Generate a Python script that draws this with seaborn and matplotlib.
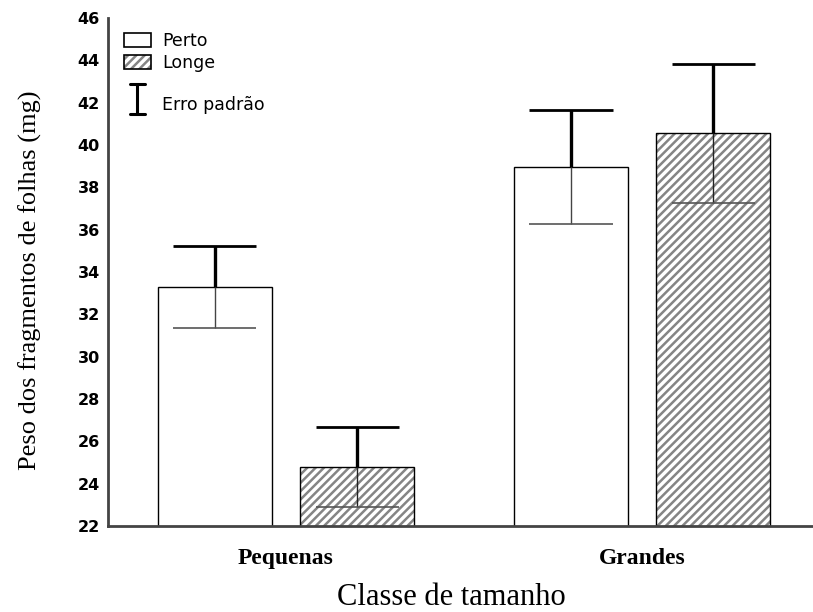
import matplotlib
matplotlib.use("Agg")
import matplotlib.pyplot as plt
import seaborn as sns
import pandas as pd
import numpy as np
from matplotlib.patches import Patch, Rectangle
from matplotlib.lines import Line2D
from matplotlib.legend_handler import HandlerBase, HandlerTuple

# ---- data ----
categories = ["Pequenas", "Grandes"]
groups = ["Perto", "Longe"]
perto_mean = [33.3, 38.95]
longe_mean = [24.8, 40.55]
perto_se = [1.95, 2.7]
longe_se = [1.9, 3.3]
yticks = [22, 24, 26, 28, 30, 32, 34, 36, 38, 40, 42, 44, 46]

df = pd.DataFrame({
    "classe": categories * 2,
    "grupo": [groups[0]] * 2 + [groups[1]] * 2,
    "peso": perto_mean + longe_mean,
    "se": perto_se + longe_se,
})

sns.set_style("white")
plt.rcParams["hatch.linewidth"] = 1.8
plt.rcParams["text.color"] = "black"
HATCH = "////"
HCOL = "#858585"

fig = plt.figure(figsize=(8.13, 6.12), dpi=100)
ax = fig.add_axes([0.1328, 0.1405, 0.8672, 0.8301])

sns.barplot(data=df, x="classe", y="peso", hue="grupo", order=categories,
            hue_order=groups, palette=["white", "white"], errorbar=None,
            width=0.8, gap=0.2, edgecolor="black", linewidth=1.0,
            legend=False, ax=ax)

bars = list(ax.patches)
cap_half = 0.117
for i, p in enumerate(bars):
    g = i // 2
    c = i % 2
    if g == 1:
        p.set_hatch(HATCH)
        p.set_edgecolor(HCOL)
        p.set_linewidth(0)
        ax.add_patch(Rectangle(p.get_xy(), p.get_width(), p.get_height(),
                               fill=False, edgecolor="black", lw=1.0, zorder=p.get_zorder() + 0.1))
    mean = [perto_mean, longe_mean][g][c]
    se = [perto_se, longe_se][g][c]
    xc = p.get_x() + p.get_width() / 2
    ax.vlines(xc, mean, mean + se, color="black", lw=2.4, zorder=5)
    ax.hlines(mean + se, xc - cap_half, xc + cap_half, color="black", lw=2.0, zorder=5)
    ax.vlines(xc, mean - se, mean, color="#444444" if g == 0 else "#222222", lw=1.0, zorder=5)
    ax.hlines(mean - se, xc - cap_half, xc + cap_half, color="#555555", lw=1.2, zorder=5)

ax.set_ylim(22, 46)
ax.set_xlim(-0.5, 1.48)
ax.set_yticks(yticks)
ax.set_yticklabels([str(t) for t in yticks], fontsize=11.5, fontweight="bold",
                   family="DejaVu Sans", color="black")
ax.set_xticks([0, 1])
ax.set_xticklabels(categories, fontsize=17, fontweight="bold", family="Liberation Serif",
                   color="black")
ax.tick_params(axis="y", direction="in", length=4, width=1.2, color="#444444", pad=6)
ax.tick_params(axis="x", direction="in", length=4, width=1.2, color="#444444", pad=16)

for s in ["top", "right"]:
    ax.spines[s].set_visible(False)
for s in ["left", "bottom"]:
    ax.spines[s].set_color("#444444")
    ax.spines[s].set_linewidth(2.0)

ax.set_ylabel("Peso dos fragmentos de folhas (mg)", family="Liberation Serif",
              fontsize=19, color="black")
ax.yaxis.set_label_coords(-0.094, 0.484)
ax.set_xlabel("Classe de tamanho", family="Liberation Serif", fontsize=22, color="black")
ax.xaxis.set_label_coords(0.487, -0.113)


class HandlerI(HandlerBase):
    def create_artists(self, legend, orig_handle, xdescent, ydescent, width, height,
                       fontsize, trans):
        cx = width / 2 - xdescent
        cy = height / 2 - ydescent + 0.3 * fontsize
        h = 0.85 * fontsize
        w = 0.42 * fontsize
        arts = [
            Line2D([cx, cx], [cy - h, cy + h], color="black", lw=2.2),
            Line2D([cx - w, cx + w], [cy + h, cy + h], color="black", lw=2.2),
            Line2D([cx - w, cx + w], [cy - h, cy - h], color="black", lw=2.2),
        ]
        for a in arts:
            a.set_transform(trans)
        return arts


# legend
h1 = Patch(facecolor="white", edgecolor="black", lw=1.2)
h2a = Patch(facecolor="white", edgecolor=HCOL, lw=0, hatch=HATCH)
h2b = Patch(fill=False, edgecolor="black", lw=1.2)
leg1 = ax.legend([h1, (h2a, h2b)], ["Perto", "Longe"], loc="upper left",
                 bbox_to_anchor=(0.0, 1.003), frameon=False, handlelength=1.6,
                 handleheight=0.9, labelspacing=0.22, handletextpad=0.6,
                 handler_map={tuple: HandlerTuple(ndivide=1, pad=0)},
                 prop={"family": "DejaVu Sans", "size": 12.5})
ax.add_artist(leg1)
ierr = Line2D([], [], color="black")
leg2 = ax.legend([ierr], ["Erro padrão"], loc="upper left",
                 bbox_to_anchor=(0.0, 0.883), frameon=False, handlelength=1.6,
                 handleheight=1.6, handletextpad=0.6,
                 handler_map={Line2D: HandlerI()},
                 prop={"family": "DejaVu Sans", "size": 12.5})

fig.savefig("out.png", dpi=100)
